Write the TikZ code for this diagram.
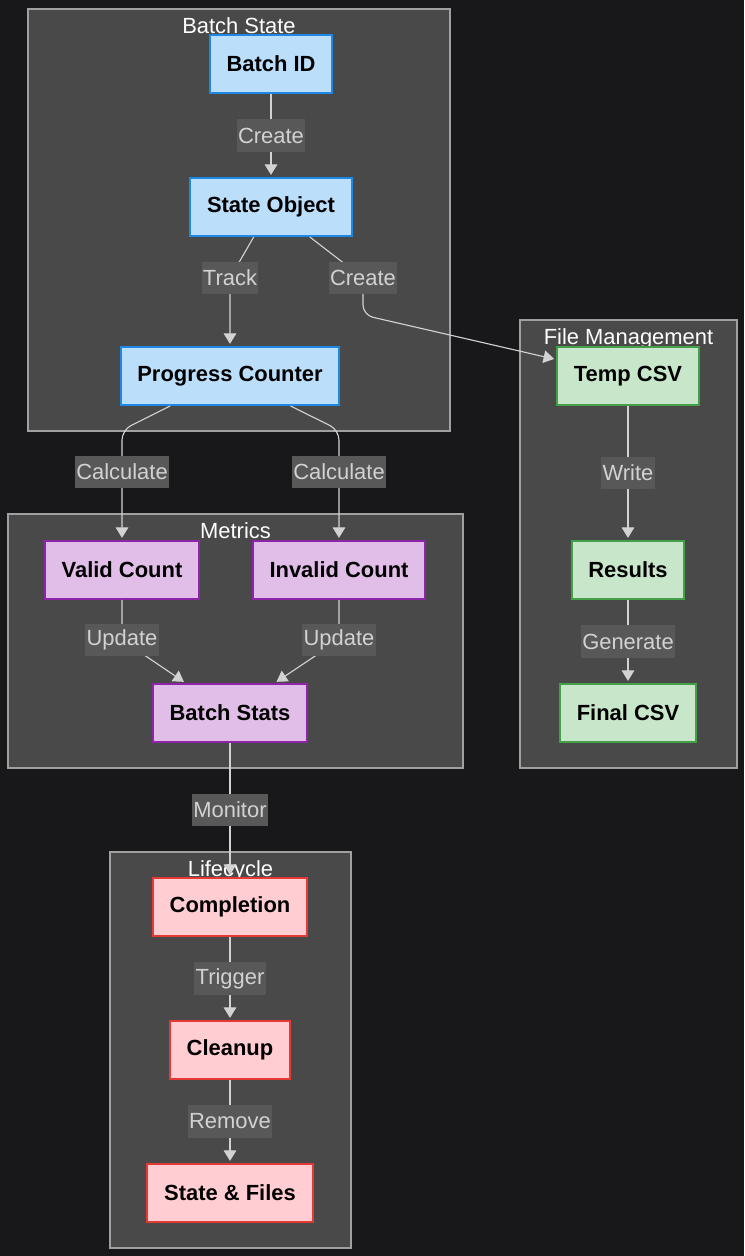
\documentclass[tikz,border=0pt]{standalone}
\usepackage{fontspec}
\setmainfont{Liberation Sans}
\usepackage{xcolor}
\usepackage{tikz}
\usetikzlibrary{arrows.meta, calc}

\definecolor{bgdark}{RGB}{24,24,27}
\definecolor{clusterfill}{RGB}{73,73,73}
\definecolor{clusterline}{RGB}{160,160,160}
\definecolor{labelfill}{RGB}{88,88,88}
\definecolor{labelgray}{RGB}{210,210,210}
\definecolor{edgegray}{RGB}{210,210,210}
\definecolor{batchfill}{HTML}{BBDEFB}
\definecolor{batchline}{HTML}{1E88E5}
\definecolor{metricfill}{HTML}{E1BEE7}
\definecolor{metricline}{HTML}{8E24AA}
\definecolor{filefill}{HTML}{C8E6C9}
\definecolor{fileline}{HTML}{43A047}
\definecolor{lifefill}{HTML}{FFCDD2}
\definecolor{lifeline}{HTML}{E53935}

\begin{document}
\begin{tikzpicture}[x=0.025cm, y=-0.025cm, font=\fontsize{15.6}{18}\selectfont]
\tikzstyle{base} = [rectangle, line width=1.4pt, minimum height=1.45cm, inner xsep=0.42cm, font=\fontsize{15.6}{18}\selectfont\bfseries]
\tikzstyle{batch} = [base, draw=batchline, fill=batchfill]
\tikzstyle{metric} = [base, draw=metricline, fill=metricfill]
\tikzstyle{filebox} = [base, draw=fileline, fill=filefill]
\tikzstyle{life} = [base, draw=lifeline, fill=lifefill]
\tikzstyle{cluster} = [draw=clusterline, fill=clusterfill, line width=1pt]
\tikzstyle{title} = [text=white, anchor=base, inner sep=0pt]
\tikzstyle{elabel} = [sharp corners, fill=labelfill, text=labelgray, inner xsep=1pt, inner ysep=0pt, minimum height=0.82cm]
\tikzstyle{arrow} = [-{Triangle[length=7.5pt,width=9pt]}, draw=edgegray, line width=0.8pt, shorten >=1.5pt, rounded corners=0.25cm]

% Page
\fill[bgdark] (0,0) rectangle (744,1256);
\useasboundingbox (0,0) rectangle (744,1256);

% Clusters
\draw[cluster] (28,9) rectangle (450,431);
\node[title] (tbatch) at (239,33) {Batch State};
\draw[cluster] (520,320) rectangle (737,768);
\node[title] (tfile) at (628.5,344) {File Management};
\draw[cluster] (8,514) rectangle (463,768);
\node[title] (tmetric) at (235.5,538) {Metrics};
\draw[cluster] (110,852) rectangle (351,1248);
\node[title] (tlife) at (230.5,876) {Lifecycle};

% Batch State
\node[batch] (batchid) at (271,64) {Batch ID};
\node[batch] (stateobj) at (271,207) {State Object};
\node[batch] (progress) at (230,376) {Progress Counter};

% File Management
\node[filebox] (tempcsv) at (628,376) {Temp CSV};
\node[filebox] (results) at (628,570) {Results};
\node[filebox] (finalcsv) at (628,713) {Final CSV};

% Metrics
\node[metric] (valid) at (122,570) {Valid Count};
\node[metric] (invalid) at (339,570) {Invalid Count};
\node[metric] (stats) at (230,713) {Batch Stats};

% Lifecycle
\node[life] (completion) at (230,907) {Completion};
\node[life] (cleanup) at (230,1050) {Cleanup};
\node[life] (statefiles) at (230,1193) {State \& Files};

% Bends
\coordinate (trackmid) at (230,278);
\coordinate (createmid) at (363,278);
\coordinate (createbend) at (363,315);
\coordinate (calcleft) at (122,430);
\coordinate (calcleftmid) at (122,472);
\coordinate (calcright) at (339,430);
\coordinate (calcrightmid) at (339,472);
\coordinate (updleft) at (122,640);
\coordinate (updright) at (339,640);

% Connections
\draw[arrow] (batchid) -- node[elabel] {Create} (stateobj);
\draw[arrow] (stateobj) -- (trackmid) node[elabel] {Track} -- (progress);
\draw[arrow] (stateobj) -- (createmid) node[elabel] {Create} -- (createbend) -- (tempcsv);
\draw[arrow] (progress) -- (calcleft) -- (calcleftmid) node[elabel] {Calculate} -- (valid);
\draw[arrow] (progress) -- (calcright) -- (calcrightmid) node[elabel] {Calculate} -- (invalid);
\draw[arrow] (valid) -- (updleft) node[elabel] {Update} -- (stats);
\draw[arrow] (invalid) -- (updright) node[elabel] {Update} -- (stats);
\draw[arrow] (stats) -- node[elabel] {Monitor} (completion);
\draw[arrow] (tempcsv) -- node[elabel] {Write} (results);
\draw[arrow] (results) -- node[elabel] {Generate} (finalcsv);
\draw[arrow] (completion) -- node[elabel] {Trigger} (cleanup);
\draw[arrow] (cleanup) -- node[elabel] {Remove} (statefiles);
\end{tikzpicture}
\end{document}
